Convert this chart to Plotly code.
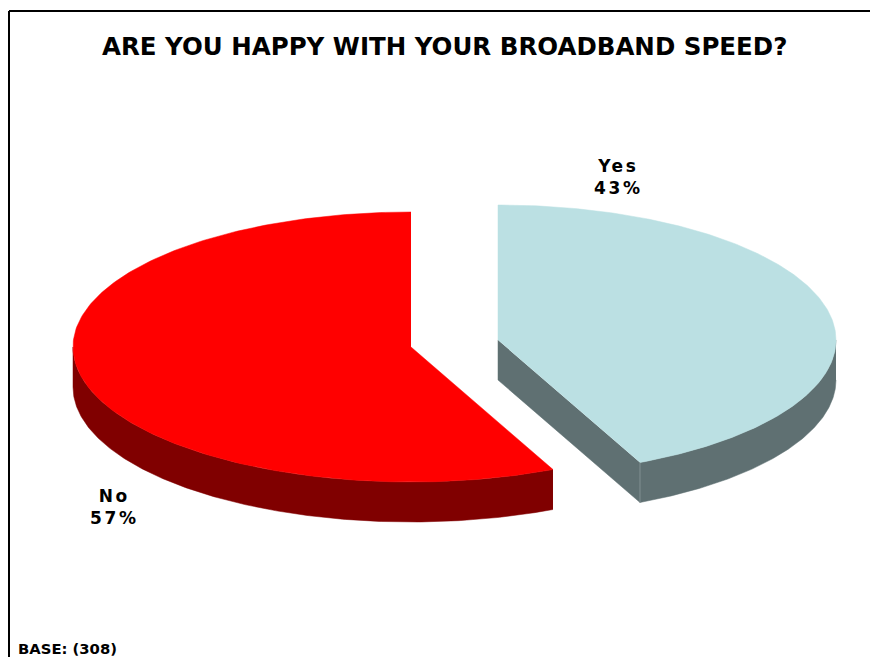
import numpy as np
import plotly.graph_objects as go

categories = ["Yes", "No"]
values = [43.1, 56.9]
title_text = "ARE YOU HAPPY WITH YOUR BROADBAND SPEED?"
base_text = "BASE: (308)"

TOP = ["#BBE0E3", "#FF0000"]
SIDE = ["#5F7072", "#800000"]
RX, RY, DEPTH = 338, 135, 40
CENTERS = [(498, 340), (411, 347)]
LABEL_POS = [(618, 177), (114, 507)]


def rim(c, a0, a1, n=240):
    """Ellipse rim, angles clockwise from the top of the pie, in degrees."""
    t = np.radians(np.linspace(a0, a1, n))
    return c[0] + RX * np.sin(t), c[1] - RY * np.cos(t)


def poly(x, y, color, line=None):
    return go.Scatter(
        x=list(x), y=list(y), mode="lines", fill="toself", fillcolor=color,
        line=dict(color=line or color, width=0.5), hoverinfo="skip", showlegend=False,
    )


total = sum(values)
spans = [v / total * 360 for v in values]
traces = []

# Yes slice: runs clockwise from 12 o'clock
c = CENTERS[0]
a1 = spans[0]
ex, ey = rim(c, a1, a1, 1)
traces.append(poly([c[0], c[0], ex[0], ex[0]], [c[1], c[1] + DEPTH, ey[0] + DEPTH, ey[0]], SIDE[0]))
wx, wy = rim(c, 90, a1)
traces.append(poly(np.r_[wx, wx[::-1]], np.r_[wy, wy[::-1] + DEPTH], SIDE[0]))
traces.append(poly([ex[0], ex[0]], [ey[0], ey[0] + DEPTH], SIDE[0], "#A9B5B6"))
tx, ty = rim(c, 0, a1)
traces.append(poly(np.r_[c[0], tx], np.r_[c[1], ty], TOP[0]))

# No slice: continues clockwise to 12 o'clock
c = CENTERS[1]
a0 = spans[0]
wx, wy = rim(c, a0, 270)
traces.append(poly(np.r_[wx, wx[::-1]], np.r_[wy, wy[::-1] + DEPTH], SIDE[1]))
tx, ty = rim(c, a0, 360)
traces.append(poly(np.r_[c[0], tx], np.r_[c[1], ty], TOP[1]))

fig = go.Figure(traces)

for name, v, (lx, ly) in zip(categories, values, LABEL_POS):
    fig.add_annotation(
        x=lx, y=ly, xref="x", yref="y", text=f"<b>{name}</b><br><b>{round(v)}%</b>", showarrow=False,
        align="center", font=dict(family="DejaVu Sans", size=17, color="black"),
    )

fig.add_annotation(x=444.5, y=46, xref="x", yref="y", text=f"<b>{title_text}</b>", showarrow=False,
                   font=dict(family="DejaVu Sans", size=24.5, color="black"))
fig.add_annotation(x=16, y=648, xref="x", yref="y", xanchor="left", text=f"<b>{base_text}</b>", showarrow=False,
                   font=dict(family="DejaVu Sans", size=14.8, color="black"))

fig.add_shape(type="line", x0=9, x1=870, y0=11, y1=11, xref="x", yref="y", line=dict(color="black", width=2))
fig.add_shape(type="line", x0=9, x1=9, y0=11, y1=657, xref="x", yref="y", line=dict(color="black", width=2))

fig.update_layout(
    width=870, height=657, margin=dict(l=0, r=0, t=0, b=0),
    paper_bgcolor="white", plot_bgcolor="white",
    xaxis=dict(range=[0, 870], visible=False, fixedrange=True),
    yaxis=dict(range=[657, 0], visible=False, fixedrange=True),
)
post = """
document.body.style.margin = '0';
document.body.style.overflow = 'hidden';
document.querySelectorAll('.annotation-text').forEach(function (t) {
  if (t.textContent.indexOf('%') >= 0) { t.style.letterSpacing = '2.6px'; }
});
"""
fig.write_html("out.html", config=dict(displayModeBar=False), post_script=post)
